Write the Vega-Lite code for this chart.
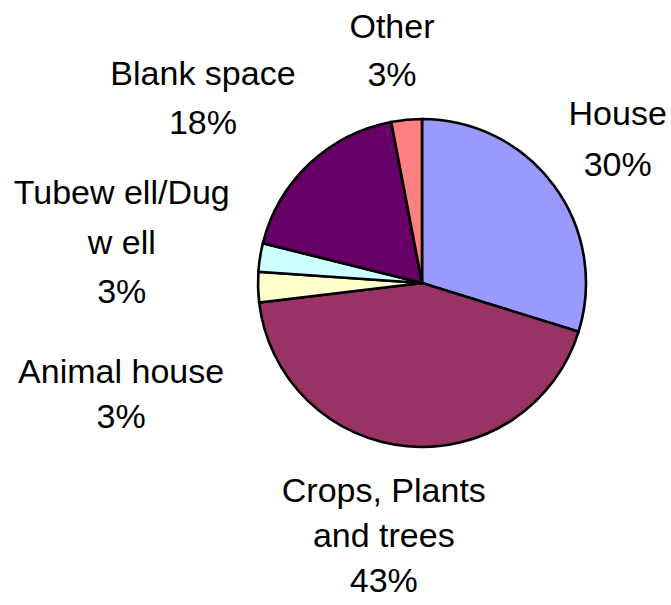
{
  "$schema": "https://vega.github.io/schema/vega-lite/v6.json",
  "autosize": {"type": "none"},
  "width": 498,
  "height": 566,
  "padding": {"left": 173, "top": 0, "right": 0, "bottom": 39},
  "background": "white",
  "config": {"view": {"stroke": null}},
  "data": {
    "values": [
      {"name": "House", "value": 29.8, "order": 1, "label": "House\n30%"},
      {"name": "Crops, Plants and trees", "value": 43.3, "order": 2, "label": "Crops, Plants\nand trees\n43%"},
      {"name": "Animal house", "value": 3.0, "order": 3, "label": "Animal house\n3%"},
      {"name": "Tubewell/Dugwell", "value": 2.8, "order": 4, "label": "Tubew ell/Dug\nw ell\n3%"},
      {"name": "Blank space", "value": 18.1, "order": 5, "label": "Blank space\n18%"},
      {"name": "Other", "value": 3.0, "order": 6, "label": "Other\n3%"}
    ]
  },
  "encoding": {
    "theta": {"field": "value", "type": "quantitative", "stack": true},
    "order": {"field": "order", "type": "quantitative"}
  },
  "layer": [
    {
      "mark": {"type": "arc", "outerRadius": 164, "stroke": "black", "strokeWidth": 2.6},
      "encoding": {
        "color": {
          "field": "name",
          "type": "nominal",
          "legend": null,
          "scale": {
            "domain": ["House", "Crops, Plants and trees", "Animal house", "Tubewell/Dugwell", "Blank space", "Other"],
            "range": ["#9999FF", "#993366", "#FFFFCC", "#CCFFFF", "#660066", "#FF8080"]
          }
        }
      }
    },
    {
      "mark": {"type": "text", "radius": 243, "dx": 0, "dy": -24, "font": "Liberation Sans", "fontSize": 34, "lineBreak": "\n", "lineHeight": 51, "align": "center", "baseline": "middle", "color": "black"},
      "encoding": {"text": {"condition": {"test": "datum.name === 'House'", "field": "label"}, "value": ""}}
    },
    {
      "mark": {"type": "text", "radius": 255, "dx": -15, "dy": -45, "font": "Liberation Sans", "fontSize": 34, "lineBreak": "\n", "lineHeight": 45, "align": "center", "baseline": "middle", "color": "black"},
      "encoding": {"text": {"condition": {"test": "datum.name === 'Crops, Plants and trees'", "field": "label"}, "value": ""}}
    },
    {
      "mark": {"type": "text", "radius": 301, "dx": 0, "dy": 82, "font": "Liberation Sans", "fontSize": 34, "lineBreak": "\n", "lineHeight": 45, "align": "center", "baseline": "middle", "color": "black"},
      "encoding": {"text": {"condition": {"test": "datum.name === 'Animal house'", "field": "label"}, "value": ""}}
    },
    {
      "mark": {"type": "text", "radius": 304, "dx": 0, "dy": -41, "font": "Liberation Sans", "fontSize": 34, "lineBreak": "\n", "lineHeight": 49.5, "align": "center", "baseline": "middle", "color": "black"},
      "encoding": {"text": {"condition": {"test": "datum.name === 'Tubewell/Dugwell'", "field": "label"}, "value": ""}}
    },
    {
      "mark": {"type": "text", "radius": 300, "dx": -13, "dy": 10, "font": "Liberation Sans", "fontSize": 34, "lineBreak": "\n", "lineHeight": 49.5, "align": "center", "baseline": "middle", "color": "black"},
      "encoding": {"text": {"condition": {"test": "datum.name === 'Blank space'", "field": "label"}, "value": ""}}
    },
    {
      "mark": {"type": "text", "radius": 234, "dx": -8, "dy": -22, "font": "Liberation Sans", "fontSize": 34, "lineBreak": "\n", "lineHeight": 47.5, "align": "center", "baseline": "middle", "color": "black"},
      "encoding": {"text": {"condition": {"test": "datum.name === 'Other'", "field": "label"}, "value": ""}}
    }
  ]
}
